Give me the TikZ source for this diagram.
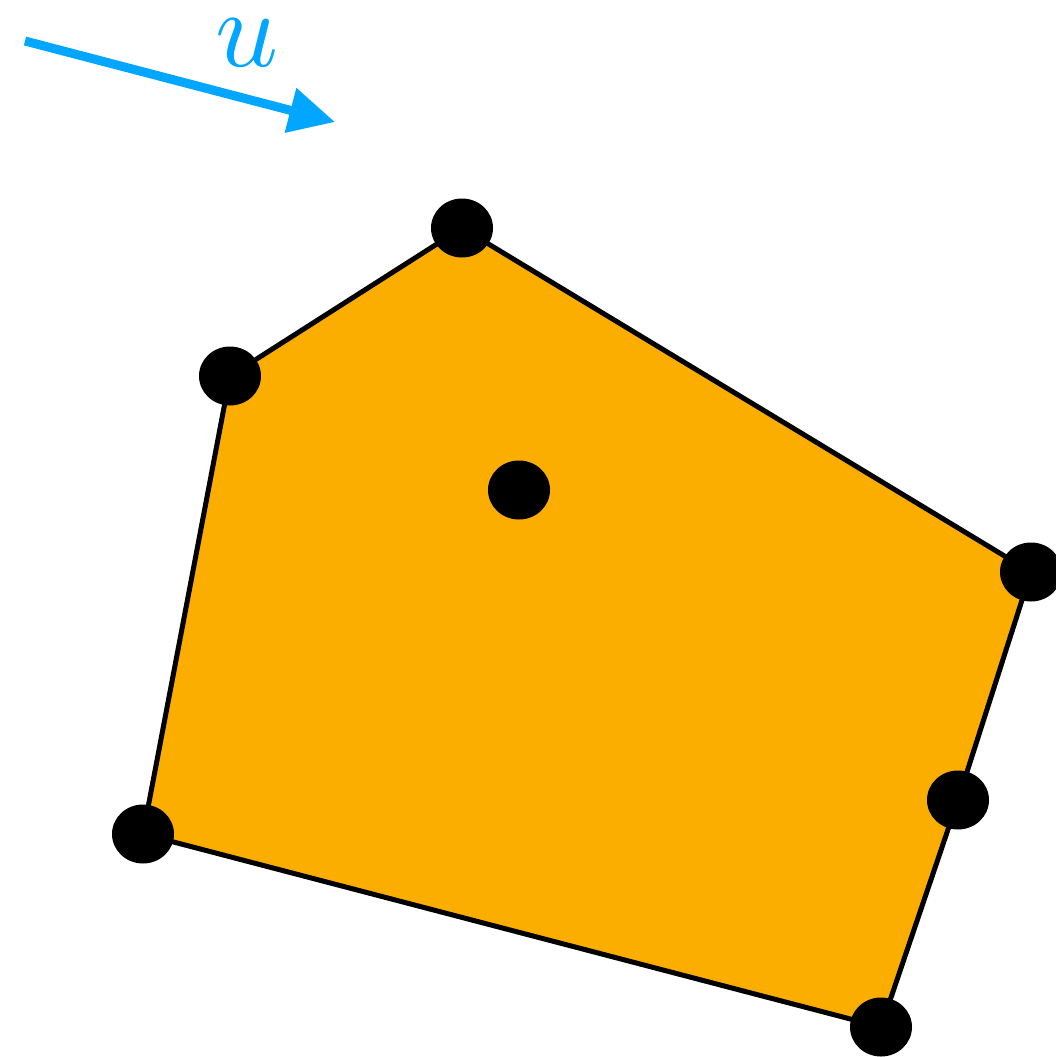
\documentclass[tikz,border=0pt]{standalone}
\usetikzlibrary{arrows.meta,shapes.geometric}
\definecolor{polyfill}{RGB}{252,174,0}
\definecolor{arrowblue}{RGB}{0,166,255}
\tikzset{
  vdot/.style={ellipse, fill=black, inner sep=0pt, minimum width=62pt, minimum height=59pt},
  edge/.style={draw=black, line width=5pt, line join=miter},
  vel/.style={draw=arrowblue, line width=9pt, -{Triangle[length=46pt, width=44pt]}},
}
\begin{document}
\begin{tikzpicture}[x=1pt,y=-1pt]
\useasboundingbox (0,0) rectangle (1056,1057);
\coordinate (top) at (462,228);
\coordinate (ul) at (230,376);
\coordinate (ctr) at (519,490);
\coordinate (rt) at (1031,572);
\coordinate (rm) at (958,800);
\coordinate (bt) at (881,1027);
\coordinate (lf) at (143,834);
\fill[polyfill] (top) -- (rt) -- (rm) -- (bt) -- (lf) -- (ul) -- cycle;
\draw[edge] (top) -- (rt) -- (rm) -- (bt) -- (lf) -- (ul) -- cycle;
\foreach \p in {top,ul,ctr,rt,rm,bt,lf}
  \node[vdot] (d\p) at (\p) {};
\coordinate (a0) at (25,41);
\coordinate (a1) at (335,122);
\draw[vel] (a0) -- (a1);
\node[text=arrowblue, inner sep=0pt, scale=11] (lab) at (247,43) {$u$};
\end{tikzpicture}
\end{document}
